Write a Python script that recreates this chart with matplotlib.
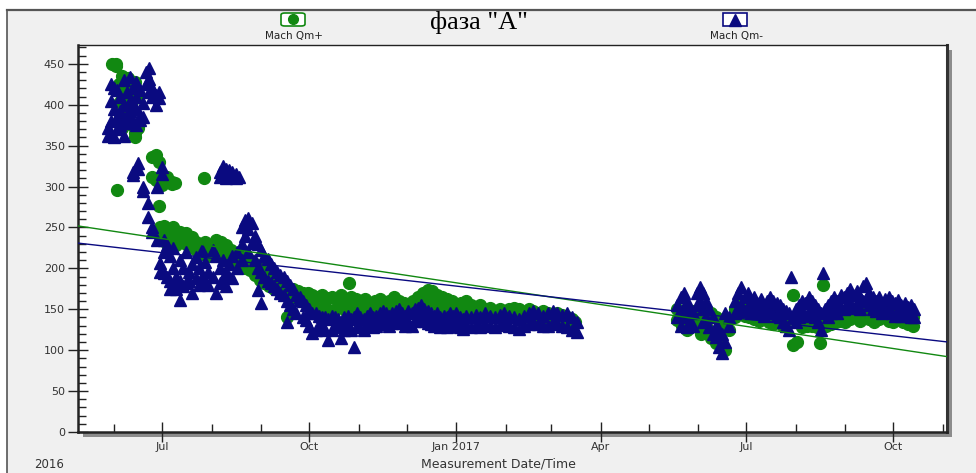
import numpy as np
import pandas as pd
import matplotlib
matplotlib.use("Agg")
import matplotlib.pyplot as plt
import matplotlib.dates as mdates
from matplotlib.patches import Rectangle, FancyBboxPatch
from matplotlib.lines import Line2D
from matplotlib.ticker import MultipleLocator, FixedLocator, FixedFormatter

# дни считаются от 2016-07-01, значения читаются с картинки
origin = pd.Timestamp("2016-07-01")

qm_plus = [
    (-31, 450), (-29, 450), (-29, 447), (-28, 296), (-27, 425), (-27, 402), (-27, 380),
    (-25, 435), (-25, 410), (-25, 390), (-25, 372), (-23, 430), (-23, 420), (-23, 398),
    (-23, 385), (-21, 433), (-21, 415), (-21, 395), (-19, 422), (-19, 405), (-19, 375),
    (-17, 428), (-17, 365), (-17, 360), (-15, 410), (-15, 372),
    (-6, 336), (-6, 312), (-4, 338), (-4, 308), (-2, 330), (-2, 305), (-2, 276),
    (0, 310), (0, 302), (3, 312), (3, 305), (6, 306), (6, 303), (8, 304), (26, 310),
    (-1, 250), (-1, 240), (1, 252), (1, 245), (1, 235), (3, 248), (3, 240), (3, 230),
    (5, 245), (5, 238), (7, 250), (7, 242), (7, 232), (9, 246), (9, 236), (9, 228),
    (11, 244), (11, 238), (13, 240), (13, 232), (15, 243), (15, 230), (17, 235), (17, 228),
    (19, 238), (19, 226), (21, 232), (21, 222), (23, 230), (23, 220), (25, 228), (25, 218),
    (27, 232), (27, 224), (29, 226), (29, 215),
    (34, 235), (34, 225), (37, 232), (37, 222), (40, 228), (40, 215), (43, 222), (43, 212),
    (46, 218), (46, 208), (49, 215), (49, 205), (52, 212), (52, 200), (55, 210), (55, 198),
    (58, 205), (58, 192), (61, 200), (61, 186), (64, 196), (64, 182), (67, 192), (67, 178),
    (70, 190), (70, 175), (73, 186), (73, 172), (76, 180), (76, 170), (79, 176), (78, 141),
    (82, 175), (82, 165), (85, 172), (85, 162), (88, 170), (88, 160), (91, 170), (91, 158),
    (94, 168), (94, 155), (97, 165), (97, 150), (100, 168), (100, 152), (103, 164), (103, 150),
    (106, 165), (106, 148), (109, 162), (109, 150), (112, 168), (112, 155), (115, 160),
    (115, 148), (117, 182), (118, 165), (118, 150), (121, 162), (121, 146), (124, 160),
    (124, 148), (127, 163), (127, 150), (130, 158), (130, 145), (133, 160), (133, 148),
    (136, 162), (136, 150), (139, 158), (139, 146), (142, 160), (142, 148), (145, 165),
    (145, 150), (148, 160), (148, 152), (151, 158), (151, 148), (154, 156), (154, 146),
    (157, 160), (157, 150), (160, 165), (160, 152), (163, 170), (163, 155), (166, 174),
    (166, 160), (169, 172), (169, 158), (172, 168), (172, 155), (175, 165), (175, 152),
    (178, 162), (178, 150), (181, 160), (181, 148), (184, 155), (184, 145), (187, 158),
    (187, 146), (190, 160), (190, 150), (193, 155), (193, 145), (196, 152), (196, 144),
    (199, 155), (199, 146), (202, 150), (202, 142), (205, 152), (205, 144), (208, 148),
    (208, 140), (211, 150), (211, 142), (214, 148), (214, 141), (217, 150), (217, 143),
    (220, 152), (220, 145), (223, 150), (223, 143), (226, 147), (226, 140), (229, 150),
    (229, 142), (232, 148), (232, 141), (235, 145), (235, 138), (238, 148), (238, 140),
    (241, 146), (241, 139), (244, 144), (244, 138), (247, 146), (247, 140), (250, 143),
    (250, 136), (253, 140), (253, 133), (256, 138), (256, 130), (258, 135),
    (322, 150), (322, 137), (325, 145), (325, 130), (328, 140), (328, 125), (331, 148),
    (331, 135), (334, 142), (334, 128), (337, 138), (337, 120), (340, 150), (340, 130),
    (343, 145), (343, 115), (346, 140), (346, 109), (349, 135), (349, 105), (352, 130),
    (352, 100), (354, 125),
    (358, 150), (358, 140), (361, 155), (361, 145), (364, 152), (364, 142), (367, 148),
    (367, 140), (370, 150), (370, 138), (373, 145), (373, 136), (376, 148), (376, 140),
    (379, 145), (379, 135), (382, 142), (382, 132), (385, 145), (385, 135), (388, 140),
    (388, 130), (394, 167), (391, 138), (394, 106), (397, 110), (397, 135), (400, 138),
    (400, 128), (403, 140), (403, 130), (406, 142), (406, 130), (409, 140), (409, 128),
    (413, 180), (412, 138), (411, 109), (415, 140), (415, 130), (418, 142), (418, 132),
    (421, 145), (421, 135), (424, 148), (424, 136), (427, 145), (427, 134), (430, 148),
    (430, 138), (433, 150), (433, 140), (436, 147), (436, 136), (439, 150), (439, 140),
    (442, 148), (442, 138), (445, 145), (445, 135), (448, 148), (448, 138), (451, 150),
    (451, 140), (454, 148), (454, 136), (457, 145), (457, 135), (460, 148), (460, 138),
    (463, 145), (463, 135), (466, 142), (466, 132), (469, 140), (469, 130),
]

qm_minus = [
    (-34, 372), (-34, 362), (-32, 425), (-32, 405), (-32, 380), (-32, 365), (-30, 420),
    (-30, 395), (-30, 360), (-28, 418), (-28, 385), (-28, 370), (-26, 410), (-26, 392),
    (-26, 375), (-24, 430), (-24, 400), (-24, 382), (-24, 362), (-22, 415), (-22, 388),
    (-22, 378), (-20, 434), (-20, 405), (-20, 392), (-18, 420), (-18, 400), (-18, 380),
    (-16, 428), (-16, 410), (-16, 395), (-16, 375), (-14, 418), (-14, 388), (-14, 381),
    (-12, 402), (-12, 385), (-10, 440), (-10, 425), (-8, 445), (-8, 432), (-8, 415),
    (-6, 420), (-6, 410), (-4, 412), (-4, 400), (-2, 415), (-2, 408),
    (-18, 314), (-18, 318), (-15, 329), (-15, 322), (-12, 300), (-12, 295), (-9, 280),
    (-9, 263), (-6, 251), (-6, 245), (-3, 300), (-3, 235), (0, 324), (0, 315),
    (-1, 207), (-1, 195), (1, 235), (1, 220), (1, 194), (3, 228), (3, 190), (5, 215),
    (5, 185), (5, 175), (7, 225), (7, 200), (7, 180), (9, 190), (9, 175), (11, 210),
    (11, 185), (11, 161), (13, 200), (13, 178), (15, 220), (15, 182), (17, 195), (17, 185),
    (19, 205), (19, 170), (21, 214), (21, 188), (23, 200), (23, 180), (25, 222), (25, 190),
    (27, 208), (27, 185), (29, 195), (29, 180),
    (36, 318), (36, 312), (38, 325), (38, 315), (40, 322), (40, 310), (42, 320), (42, 314),
    (44, 318), (44, 312), (46, 315), (46, 310), (48, 312),
    (32, 222), (32, 190), (34, 215), (34, 170), (36, 200), (36, 182), (38, 210), (38, 185),
    (40, 195), (40, 178), (42, 205), (42, 190), (44, 215), (44, 188), (47, 220), (47, 200),
    (50, 250), (50, 230), (50, 210), (52, 259), (52, 240), (54, 262), (54, 248), (54, 220),
    (56, 255), (56, 231), (58, 240), (58, 210), (60, 230), (60, 200), (60, 174), (62, 222),
    (62, 195), (62, 158), (64, 215), (64, 190), (66, 212), (66, 185), (68, 205), (68, 182),
    (70, 200), (70, 178), (72, 195), (72, 175), (74, 192), (74, 170), (76, 190), (76, 168),
    (78, 185), (78, 160), (78, 134), (80, 180), (80, 155), (82, 175), (82, 150), (84, 168),
    (84, 145), (86, 165), (86, 161), (88, 160), (88, 140), (90, 155), (90, 137), (92, 150),
    (92, 130), (94, 146), (94, 121), (96, 145), (96, 125), (98, 142), (98, 130), (100, 140),
    (100, 128), (102, 140), (102, 125), (104, 138), (104, 112), (106, 142), (106, 125),
    (108, 140), (108, 130), (110, 138), (110, 128), (112, 135), (112, 115), (114, 140),
    (114, 125), (116, 142), (116, 130), (118, 138), (118, 125), (120, 140), (120, 104),
    (122, 145), (122, 130), (124, 140), (124, 128), (126, 138), (126, 125), (128, 142),
    (128, 130), (130, 145), (130, 132), (132, 140), (132, 128), (134, 142), (134, 130),
    (136, 145), (136, 132), (138, 148), (138, 135), (140, 145), (140, 132), (142, 142),
    (142, 130), (144, 145), (144, 133), (146, 148), (146, 135), (148, 150), (148, 138),
    (150, 145), (150, 133), (152, 142), (152, 130), (154, 148), (154, 135), (156, 145),
    (156, 130), (158, 150), (158, 136), (160, 152), (160, 138), (162, 155), (162, 140),
    (164, 150), (164, 136), (166, 148), (166, 133), (168, 145), (168, 132), (170, 142),
    (170, 130), (172, 145), (172, 133), (174, 140), (174, 128), (176, 142), (176, 130),
    (178, 140), (178, 128), (180, 145), (180, 132), (182, 142), (182, 130), (184, 145),
    (184, 132), (186, 140), (186, 128), (188, 138), (188, 126), (190, 142), (190, 130),
    (193, 140), (193, 128), (196, 143), (196, 131), (199, 140), (199, 128), (202, 145),
    (202, 132), (205, 142), (205, 130), (208, 140), (208, 128), (211, 143), (211, 131),
    (214, 145), (214, 133), (217, 142), (217, 130), (220, 140), (220, 128), (223, 138),
    (223, 126), (226, 142), (226, 130), (229, 145), (229, 132), (232, 148), (232, 134),
    (235, 145), (235, 132), (238, 142), (238, 130), (241, 145), (241, 130), (244, 148),
    (244, 135), (247, 145), (247, 132), (250, 143), (250, 130), (253, 145), (253, 128),
    (256, 140), (256, 125), (259, 135), (259, 122),
    (322, 155), (322, 140), (324, 165), (324, 145), (324, 130), (326, 170), (326, 150),
    (328, 160), (328, 140), (328, 128), (330, 150), (330, 135), (332, 145), (332, 130),
    (334, 170), (334, 155), (336, 177), (336, 160), (338, 170), (338, 150), (338, 135),
    (340, 160), (340, 141), (342, 150), (342, 128), (344, 140), (344, 120), (346, 130),
    (346, 116), (348, 125), (348, 104), (350, 120), (350, 97), (352, 145), (352, 110),
    (354, 140), (354, 130),
    (358, 160), (358, 145), (360, 170), (360, 150), (362, 177), (362, 155), (364, 165),
    (364, 148), (366, 170), (366, 152), (368, 160), (368, 145), (370, 165), (370, 150),
    (372, 158), (372, 145), (374, 162), (374, 148), (376, 155), (376, 142), (378, 160),
    (378, 145), (380, 165), (380, 148), (382, 160), (382, 145), (384, 158), (384, 142),
    (386, 155), (386, 140), (388, 150), (388, 135), (390, 148), (390, 130), (392, 145),
    (392, 125), (393, 190), (394, 140), (396, 150), (396, 135), (398, 155), (398, 140),
    (400, 160), (400, 145), (402, 158), (402, 142), (404, 165), (404, 148), (406, 160),
    (406, 145), (408, 155), (408, 140), (410, 150), (410, 135), (412, 145), (412, 125),
    (413, 194), (414, 150), (416, 155), (416, 140), (418, 160), (418, 145), (420, 165),
    (420, 150), (422, 160), (422, 145), (424, 168), (424, 152), (426, 165), (426, 150),
    (428, 170), (428, 155), (430, 175), (430, 158), (432, 168), (432, 152), (434, 172),
    (434, 155), (436, 165), (436, 150), (438, 178), (438, 160), (440, 182), (440, 162),
    (442, 170), (442, 155), (444, 165), (444, 150), (446, 160), (446, 148), (448, 165),
    (448, 150), (450, 158), (450, 145), (452, 162), (452, 148), (454, 165), (454, 150),
    (456, 160), (456, 145), (458, 158), (458, 142), (460, 161), (460, 148), (462, 155),
    (462, 142), (464, 158), (464, 145), (466, 153), (466, 142), (468, 155), (468, 140),
    (470, 150), (470, 140),
]

# линии тренда: значения на краях оси
trend_days = [-53, 491]
trend_plus = [252, 92]
trend_minus = [231, 110]

x_ticks = ["2016-07-01", "2016-10-01", "2017-01-01", "2017-04-01", "2017-07-01", "2017-10-01"]
x_labels = ["Jul", "Oct", "Jan 2017", "Apr", "Jul", "Oct"]
y_ticks = [0, 50, 100, 150, 200, 250, 300, 350, 400, 450]

GREEN = "#118811"
NAVY = "#0a0a80"
W, H = 976, 473


def to_dates(days):
    return origin + pd.to_timedelta(np.asarray(days), unit="D")


fig = plt.figure(figsize=(W / 100, H / 100), dpi=100, facecolor="white")
plt.rcParams["font.family"] = ["DejaVu Sans"]

# серая панель с рамкой слева и сверху
fig.patches.append(Rectangle((7 / W, 0), 1, 1 - 10 / H, transform=fig.transFigure,
                             facecolor="#f0f0f0", edgecolor="none", zorder=-2))
fig.lines.append(Line2D([7 / W, 1], [1 - 10 / H, 1 - 10 / H], transform=fig.transFigure,
                        color="#555555", lw=1.6))
fig.lines.append(Line2D([7 / W, 7 / W], [0, 1 - 10 / H], transform=fig.transFigure,
                        color="#555555", lw=1.2))

left, bottom, width, height = 78 / W, 41 / H, 869 / W, 387 / H
# тень под графиком
fig.patches.append(Rectangle((left + 5 / W, bottom - 5 / H), width, height,
                             transform=fig.transFigure, facecolor="#8c8c8c",
                             edgecolor="none", zorder=-1))
ax = fig.add_axes([left, bottom, width, height])
ax.set_zorder(1)
ax.set_facecolor("white")

xp, yp = zip(*qm_plus)
xm, ym = zip(*qm_minus)
ax.plot(to_dates(xp), yp, "o", color=GREEN, ms=8.5, mec=GREEN, zorder=3)
ax.plot(to_dates(xm), ym, "^", color=NAVY, ms=9, mec=NAVY, zorder=4)
ax.plot(to_dates(trend_days), trend_plus, color=GREEN, lw=1.0, zorder=5)
ax.plot(to_dates(trend_days), trend_minus, color=NAVY, lw=1.0, zorder=5)

ax.set_xlim(to_dates([-52.5])[0], to_dates([490.5])[0])
ax.set_ylim(0, 473)

ax.yaxis.set_major_locator(FixedLocator(y_ticks))
ax.yaxis.set_minor_locator(MultipleLocator(10))
ax.xaxis.set_major_locator(FixedLocator(mdates.date2num(pd.to_datetime(x_ticks))))
ax.xaxis.set_major_formatter(FixedFormatter(x_labels))
ax.xaxis.set_minor_locator(mdates.MonthLocator())

ax.tick_params(which="major", direction="inout", length=15, width=1.0, color="#222222",
               labelsize=8, labelcolor="#333333", pad=2)
ax.tick_params(which="minor", direction="in", length=6, width=1.0, color="#222222")
ax.tick_params(axis="x", which="major", pad=0)

for side in ["left", "bottom"]:
    ax.spines[side].set_linewidth(1.8)
    ax.spines[side].set_color("#222222")
ax.spines["top"].set_linewidth(1.0)
ax.spines["top"].set_color("#222222")
ax.spines["right"].set_linewidth(2.2)
ax.spines["right"].set_color("#333333")

# заголовок и легенда
fig.text(479 / W, 1 - 22 / H, 'фаза "A"', ha="center", va="center",
         family=["Liberation Serif", "DejaVu Serif"], fontsize=19)

fig.patches.append(FancyBboxPatch((281 / W, 1 - 26 / H), 24 / W, 13 / H,
                                  boxstyle="round,pad=0,rounding_size=0.004",
                                  transform=fig.transFigure, facecolor="white",
                                  edgecolor=GREEN, lw=1.2, zorder=2))
fig.lines.append(Line2D([293 / W], [1 - 19.5 / H], transform=fig.transFigure,
                        marker="o", ms=7, color=GREEN, zorder=3))
fig.text(294 / W, 1 - 36 / H, "Mach Qm+", ha="center", va="center", fontsize=7.5,
         color="#222222")

fig.patches.append(Rectangle((723 / W, 1 - 26 / H), 24 / W, 13 / H,
                             transform=fig.transFigure, facecolor="white",
                             edgecolor=NAVY, lw=1.2, zorder=2))
fig.lines.append(Line2D([735 / W], [1 - 20 / H], transform=fig.transFigure,
                        marker="^", ms=8, color=NAVY, zorder=3))
fig.text(736 / W, 1 - 36 / H, "Mach Qm-", ha="center", va="center", fontsize=7.5,
         color="#222222")

fig.text(49 / W, 1 - 464 / H, "2016", ha="center", va="center", fontsize=8.5,
         color="#333333")
fig.text(498 / W, 1 - 464 / H, "Measurement Date/Time", ha="center", va="center",
         fontsize=9, color="#333333")

fig.savefig("out.png", dpi=100, facecolor=fig.get_facecolor())
